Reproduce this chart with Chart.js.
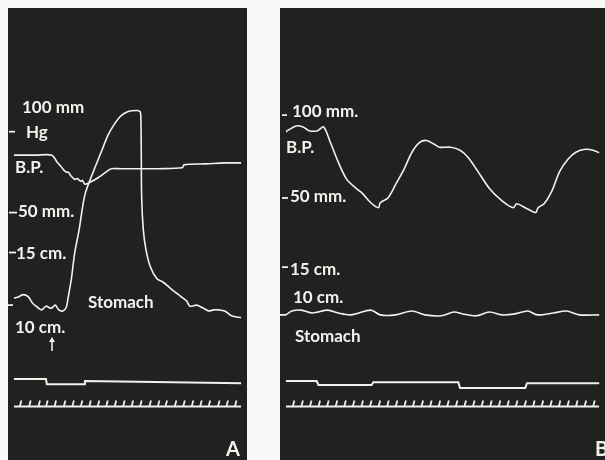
<!DOCTYPE html>
<html>
<head>
<meta charset="utf-8">
<script src="https://cdn.jsdelivr.net/npm/chart.js@4/dist/chart.umd.min.js"></script>
<style>
    body { margin: 0; background: #f8f8f6; width: 605px; height: 460px; overflow: hidden; position: relative; }
    .panel { position: absolute; top: 8px; height: 452px; }
    #panelA { left: 8px; width: 239px; }
    #panelB { left: 280px; width: 325px; }
</style>
</head>
<body>
<div class="panel" id="panelA"><canvas id="chartA"></canvas></div>
<div class="panel" id="panelB"><canvas id="chartB"></canvas></div>
<script>
// Panel A - blood pressure (mm Hg) and stomach volume (cm) against time marks
const bpTimeA = [0, 2.5, 4.5, 5.1, 5.6, 6.1, 6.5, 6.7, 7.2, 7.5, 7.9, 8.1, 8.4, 9.0, 10.0, 10.8, 11.5, 12.6, 14.8, 17.1, 19.9, 20.1, 22.7, 24.9, 26.9];
const bpValuesA = [85.5, 85.5, 85.5, 81.3, 78.3, 75.3, 74.7, 72.9, 70.5, 71.1, 69.3, 69.9, 67.5, 68.7, 71.7, 74.7, 77.1, 77.1, 77.1, 77.1, 77.7, 79.5, 80.1, 80.7, 80.7];
const stomachTimeA = [0, 0.6, 1.1, 1.7, 2.2, 2.8, 3.3, 3.8, 4.4, 4.9, 5.3, 5.8, 6.2, 6.4, 6.6, 6.8, 7.2, 7.7, 8.4, 9.4, 10.3, 11.1, 11.8, 12.6, 13.5, 14.5, 14.9, 15.0, 15.05, 15.1, 15.3, 15.6, 16.1, 16.9, 17.6, 18.5, 19.6, 20.4, 20.8, 21.6, 22.4, 23.0, 23.6, 24.2, 24.9, 25.7, 26.9];
const stomachValuesA = [10.65, 10.8, 11.0, 10.8, 10.2, 9.8, 9.55, 9.9, 9.7, 10.0, 9.55, 9.45, 9.8, 10.65, 11.55, 12.5, 15.0, 17.1, 20.5, 22.7, 24.5, 26.1, 27.1, 27.95, 28.4, 28.5, 28.4, 28.0, 24.8, 20.2, 17.1, 15.3, 13.7, 12.5, 12.2, 11.6, 10.9, 10.4, 9.9, 10.0, 9.7, 9.45, 9.55, 9.55, 9.45, 9.0, 8.8];
const signalTimeA = [0, 3.8, 3.9, 8.3, 8.4, 26.9];
const signalLevelA = [1.08, 1.08, 0.88, 0.88, 1.0, 0.92];
const timeMarksA = [0.8, 1.9, 3.0, 3.9, 4.9, 6.0, 7.0, 8.0, 9.0, 10.0, 11.0, 12.0, 13.0, 14.0, 15.0, 16.1, 17.1, 18.0, 19.1, 20.1, 21.1, 22.1, 23.1, 24.2, 25.2, 26.2];

// Panel B
const bpTimeB = [0, 1.2, 2.0, 2.7, 3.7, 4.4, 5.2, 6.1, 7.1, 8.3, 8.9, 9.9, 10.8, 11.0, 11.9, 12.8, 13.8, 14.7, 15.6, 16.4, 17.3, 17.9, 19.2, 20.3, 21.2, 22.4, 23.7, 25.2, 26.5, 26.9, 27.9, 29.1, 29.4, 30.1, 31.0, 31.9, 32.9, 33.8, 34.9, 35.8, 36.6];
const bpValuesB = [90.0, 93.5, 92.9, 90.6, 90.6, 92.9, 83.5, 71.8, 61.2, 55.3, 52.9, 47.1, 44.1, 47.1, 50.0, 58.2, 67.6, 77.6, 83.5, 84.7, 82.4, 80.6, 80.6, 78.8, 74.7, 65.9, 55.9, 48.2, 44.1, 46.5, 44.1, 41.2, 44.1, 46.5, 54.1, 65.9, 73.5, 77.6, 79.4, 78.8, 77.1];
const stomachTimeB = [0, 0.7, 1.8, 3.1, 4.9, 6.1, 7.6, 9.9, 11.0, 12.8, 14.7, 16.2, 18.1, 19.6, 20.6, 22.2, 23.7, 25.2, 26.7, 28.2, 29.3, 31.2, 32.7, 34.2, 36.6];
const stomachValuesB = [10.0, 10.4, 10.5, 10.2, 10.5, 10.2, 10.0, 10.5, 10.0, 10.0, 10.4, 10.0, 9.9, 10.3, 10.1, 9.9, 10.3, 10.0, 10.1, 10.4, 10.0, 10.2, 10.4, 10.0, 10.0];
const signalTimeB = [0, 3.6, 3.8, 10.0, 10.2, 20.1, 20.3, 27.9, 28.1, 36.7];
const signalLevelB = [1.0, 1.0, 0.85, 0.85, 0.96, 0.96, 0.73, 0.73, 0.92, 0.92];
const timeMarksB = [0.9, 1.9, 2.9, 3.9, 4.9, 5.9, 6.9, 7.9, 8.9, 9.9, 10.9, 11.9, 12.9, 13.9, 14.9, 15.9, 16.9, 17.9, 18.9, 19.9, 20.9, 21.9, 22.9, 23.9, 24.9, 25.9, 26.9, 27.9, 28.9, 29.9, 30.9, 31.9, 32.9, 33.9, 34.9, 35.9];

const TRACE = '#f1f1ee';
const PANEL_BG = '#212120';
const PX_PER_MARK = 8.9;
const LABEL_FONT = 'bold 17px Lato';

// axis min/max so that value v1 lands on pixel p1 and v2 on p2
function fitRange(v1, p1, v2, p2, height) {
    const perUnit = (p2 - p1) / (v1 - v2);
    const max = v1 + p1 / perUnit;
    return { min: max - height / perUnit, max: max };
}

function toPoints(xs, ys) {
    return xs.map((x, i) => ({ x: x, y: ys[i] }));
}

// Draws the dark paper, scale dashes and the printed captions
const recordPlugin = {
    id: 'record',
    beforeDraw(chart) {
        const ctx = chart.ctx;
        ctx.save();
        ctx.fillStyle = PANEL_BG;
        ctx.fillRect(0, 0, chart.width, chart.height);
        ctx.restore();
    },
    afterDatasetsDraw(chart, args, opts) {
        const ctx = chart.ctx;
        ctx.save();
        ctx.strokeStyle = TRACE;
        ctx.fillStyle = TRACE;
        ctx.lineWidth = 1.8;
        opts.dashes.forEach(d => {
            const y = chart.scales[d.axis].getPixelForValue(d.value);
            ctx.beginPath();
            ctx.moveTo(d.x0, y);
            ctx.lineTo(d.x1, y);
            ctx.stroke();
        });
        opts.labels.forEach(l => {
            ctx.font = l.font || LABEL_FONT;
            ctx.textBaseline = 'alphabetic';
            ctx.fillText(l.text, l.x, l.y);
        });
        if (opts.arrow) {
            const a = opts.arrow;
            ctx.lineWidth = 1.6;
            ctx.beginPath();
            ctx.moveTo(a.x, a.y1);
            ctx.lineTo(a.x, a.y0 + 2);
            ctx.stroke();
            ctx.beginPath();
            ctx.moveTo(a.x, a.y0);
            ctx.lineTo(a.x - 3, a.y0 + 5);
            ctx.lineTo(a.x + 3, a.y0 + 5);
            ctx.closePath();
            ctx.fill();
        }
        ctx.restore();
    }
};

function makePanel(canvasId, cfg) {
    const ctx = document.getElementById(canvasId).getContext('2d');
    const lineStyle = { borderColor: TRACE, pointRadius: 0, fill: false };
    return new Chart(ctx, {
        type: 'line',
        data: {
            datasets: [
                Object.assign({ label: 'B.P.', data: cfg.bp, yAxisID: 'bp', borderWidth: 1.6, tension: 0.3 }, lineStyle),
                Object.assign({ label: 'Stomach', data: cfg.stomach, yAxisID: 'st', borderWidth: 1.6, tension: 0.3 }, lineStyle),
                Object.assign({ label: 'Signal', data: cfg.signal, yAxisID: 'mk', borderWidth: 2, tension: 0 }, lineStyle),
                Object.assign({ label: 'Time', data: [{ x: 0, y: 0 }, { x: cfg.xMax, y: 0 }], yAxisID: 'mk', borderWidth: 2, tension: 0 }, lineStyle),
                {
                    label: 'Time marks',
                    data: cfg.marks.map(t => ({ x: t, y: 0.115 })),
                    yAxisID: 'mk',
                    showLine: false,
                    pointStyle: 'line',
                    rotation: 105,
                    pointRadius: 3.2,
                    pointBorderWidth: 1.8,
                    pointBorderColor: TRACE,
                    pointBackgroundColor: TRACE
                }
            ]
        },
        options: {
            responsive: true,
            maintainAspectRatio: false,
            animation: false,
            layout: { padding: 0 },
            plugins: {
                legend: { display: false },
                tooltip: { enabled: false },
                record: { labels: cfg.labels, dashes: cfg.dashes, arrow: cfg.arrow }
            },
            scales: {
                x: { type: 'linear', min: 0, max: cfg.xMax, display: false },
                bp: Object.assign({ display: false }, cfg.bpRange),
                st: Object.assign({ display: false }, cfg.stRange),
                mk: Object.assign({ display: false }, fitRange(1, 377, 0, 403, 452))
            }
        },
        plugins: [recordPlugin]
    });
}

makePanel('chartA', {
    xMax: 239 / PX_PER_MARK,
    bp: toPoints(bpTimeA, bpValuesA),
    stomach: toPoints(stomachTimeA, stomachValuesA),
    signal: toPoints(signalTimeA, signalLevelA),
    marks: timeMarksA,
    bpRange: fitRange(100, 121, 50, 204, 452),
    stRange: fitRange(15, 245, 10, 299, 452),
    dashes: [
        { axis: 'bp', value: 100, x0: 1, x1: 7 },
        { axis: 'bp', value: 50, x0: 1, x1: 9 },
        { axis: 'st', value: 15, x0: 1, x1: 8 },
        { axis: 'st', value: 10, x0: 0, x1: 5 }
    ],
    labels: [
        { text: '100 mm', x: 14, y: 105 },
        { text: 'Hg', x: 18, y: 130 },
        { text: 'B.P.', x: 7, y: 165 },
        { text: '50 mm.', x: 10, y: 209 },
        { text: '15 cm.', x: 8, y: 251 },
        { text: '10 cm.', x: 7, y: 325 },
        { text: 'Stomach', x: 80, y: 300 },
        { text: 'A', x: 218, y: 448, font: 'bold 20px Lato' }
    ],
    arrow: { x: 44, y0: 329, y1: 343 }
});

makePanel('chartB', {
    xMax: 325 / PX_PER_MARK,
    bp: toPoints(bpTimeB, bpValuesB),
    stomach: toPoints(stomachTimeB, stomachValuesB),
    signal: toPoints(signalTimeB, signalLevelB),
    marks: timeMarksB,
    bpRange: fitRange(100, 104, 50, 189, 452),
    stRange: fitRange(15, 260, 10, 309, 452),
    dashes: [
        { axis: 'bp', value: 100, x0: 2, x1: 7 },
        { axis: 'bp', value: 50, x0: 2, x1: 8 },
        { axis: 'st', value: 15, x0: 2, x1: 8 },
        { axis: 'st', value: 10, x0: 0, x1: 6 }
    ],
    labels: [
        { text: '100 mm.', x: 12, y: 109 },
        { text: 'B.P.', x: 6, y: 145 },
        { text: '50 mm.', x: 10, y: 194 },
        { text: '15 cm.', x: 10, y: 267 },
        { text: '10 cm.', x: 13, y: 295 },
        { text: 'Stomach', x: 15, y: 334 },
        { text: 'B', x: 315, y: 448, font: 'bold 20px Lato' }
    ]
});
</script>
</body>
</html>
